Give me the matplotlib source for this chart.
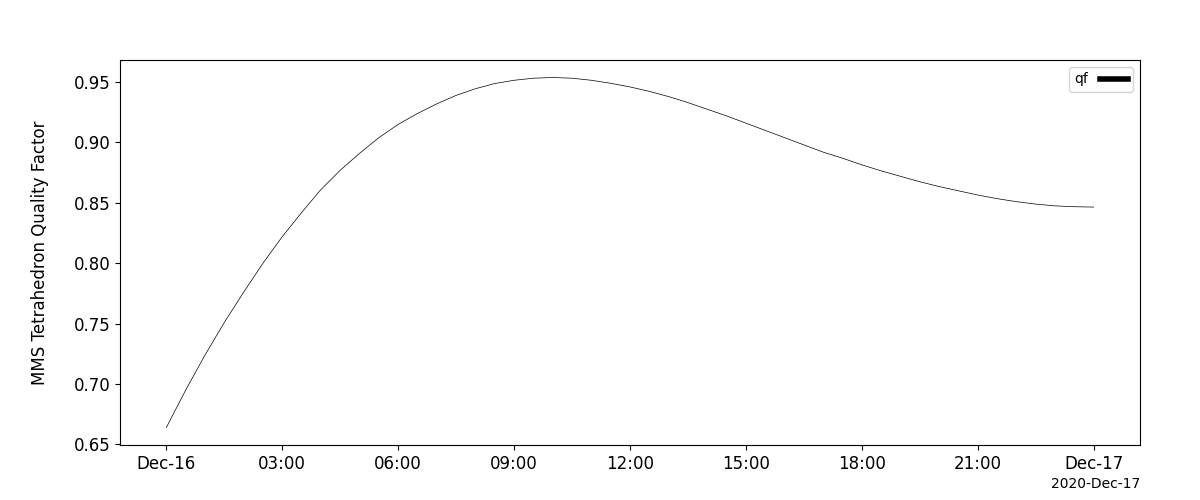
import datetime as dt

import matplotlib
matplotlib.use('Agg')
import matplotlib.dates as mdates
import matplotlib.pyplot as plt

# half-hourly readings of the MMS tetrahedron quality factor,
# 2020-12-16 00:00 .. 2020-12-17 00:00
step_minutes = 30
qf = [
    0.664, 0.695, 0.724, 0.751, 0.776, 0.800, 0.822, 0.842,
    0.861, 0.877, 0.891, 0.904, 0.915, 0.924, 0.932, 0.939,
    0.9445, 0.9488, 0.9515, 0.9532, 0.9538, 0.9532, 0.9515, 0.949,
    0.946, 0.9423, 0.938, 0.933, 0.9275, 0.922, 0.916, 0.910,
    0.904, 0.898, 0.892, 0.887, 0.8815, 0.8765, 0.872, 0.8675,
    0.8635, 0.860, 0.8565, 0.8535, 0.851, 0.849, 0.8475, 0.8468,
    0.8465,
]
start = dt.datetime(2020, 12, 16)
series_label = 'qf'
y_title = 'MMS Tetrahedron Quality Factor'

times = [start + dt.timedelta(minutes=step_minutes * i) for i in range(len(qf))]

fig = plt.figure(figsize=(12, 5), dpi=100)
ax = fig.add_axes([0.1, 0.11, 0.85, 0.77])

ax.plot(times, qf, color='black', linewidth=0.5, label=series_label)

locator = mdates.AutoDateLocator()
ax.xaxis.set_major_locator(locator)
ax.xaxis.set_major_formatter(mdates.ConciseDateFormatter(locator))
ax.tick_params(axis='both', labelsize=12)
ax.xaxis.get_offset_text().set_fontsize(10)

ax.set_ylabel(y_title, fontsize=12, labelpad=18)

leg = ax.legend(loc='upper right', markerfirst=False, fontsize=10,
                handlelength=2.0)
for line in leg.get_lines():
    line.set_linewidth(4)

fig.savefig('out.png', dpi=100)
